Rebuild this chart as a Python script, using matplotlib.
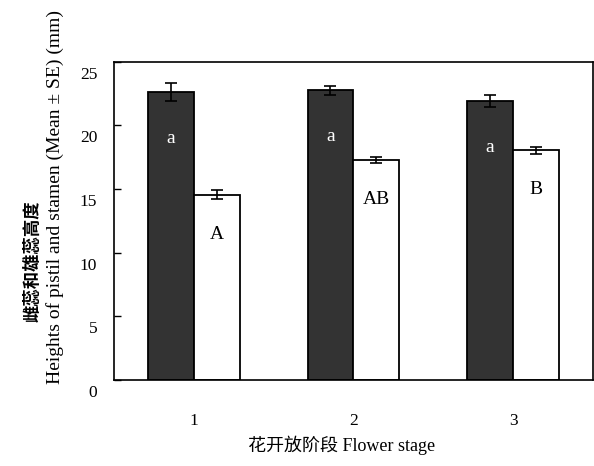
import matplotlib
matplotlib.use('Agg')
import matplotlib.pyplot as plt
import matplotlib.transforms as mtransforms
import numpy as np

# Data
stages = ['1', '2', '3']
pistil = [22.6, 22.75, 21.9]
pistil_se = [0.7, 0.35, 0.45]
stamen = [14.56, 17.3, 18.06]
stamen_se = [0.38, 0.25, 0.28]
pistil_letters = ['a', 'a', 'a']
stamen_letters = ['A', 'AB', 'B']

SERIF = 'Liberation Serif'
CJK = 'Noto Sans CJK SC'

fig = plt.figure(figsize=(5.94, 4.66), dpi=100)
ax = fig.add_axes([0.1919, 0.1845, 0.8061, 0.6831])

x = np.arange(1, len(stages) + 1)
w = 0.2875

ax.bar(x - w / 2, pistil, w, color='#333333', edgecolor='black', linewidth=1.3)
ax.bar(x + w / 2, stamen, w, color='white', edgecolor='black', linewidth=1.3)
ax.errorbar(x - w / 2, pistil, yerr=pistil_se, fmt='none', ecolor='black',
            elinewidth=1.2, capsize=4, capthick=1.2)
ax.errorbar(x + w / 2, stamen, yerr=stamen_se, fmt='none', ecolor='black',
            elinewidth=1.2, capsize=4, capthick=1.2)

# significance letters
for xi, v, t in zip(x, pistil, pistil_letters):
    ax.text(xi - w / 2, v - 3.6, t, color='white', ha='center', va='center',
            fontsize=14, family=SERIF)
for xi, v, t in zip(x, stamen, stamen_letters):
    ax.text(xi + w / 2, v - 3.1, t, color='black', ha='center', va='center',
            fontsize=14, family=SERIF)

ax.set_xlim(0.5, 3.5)
ax.set_ylim(0, 25)
ax.set_yticks([0, 5, 10, 15, 20, 25])
ax.set_xticks(x)
ax.set_xticklabels(stages)

for s in ax.spines.values():
    s.set_linewidth(1.2)
    s.set_color('black')

ax.tick_params(axis='y', direction='in', length=5, width=1, pad=12,
               labelsize=12.5)
ax.tick_params(axis='x', length=0, pad=24, labelsize=12.5)
for lab in ax.get_xticklabels() + ax.get_yticklabels():
    lab.set_family(SERIF)

# the y tick labels sit a bit below their ticks in the original
shift = mtransforms.ScaledTranslation(0, -11 / 100, fig.dpi_scale_trans)
for lab in ax.get_yticklabels():
    lab.set_transform(lab.get_transform() + shift)

fig.text(342 / 594, 1 - 445 / 466, '花开放阶段 Flower stage', ha='center',
         va='center', fontsize=13, family=[SERIF, CJK])
fig.text(32 / 594, 1 - 261 / 466, '雌蕊和雄蕊高度', rotation=90, ha='center',
         va='center', fontsize=12.5, family=CJK, weight='bold')
fig.text(55 / 594, 1 - 197 / 466, 'Heights of pistil and stamen (Mean ± SE) (mm)',
         rotation=90, ha='center', va='center', fontsize=14, family=SERIF)

fig.savefig('out.png', dpi=100)
